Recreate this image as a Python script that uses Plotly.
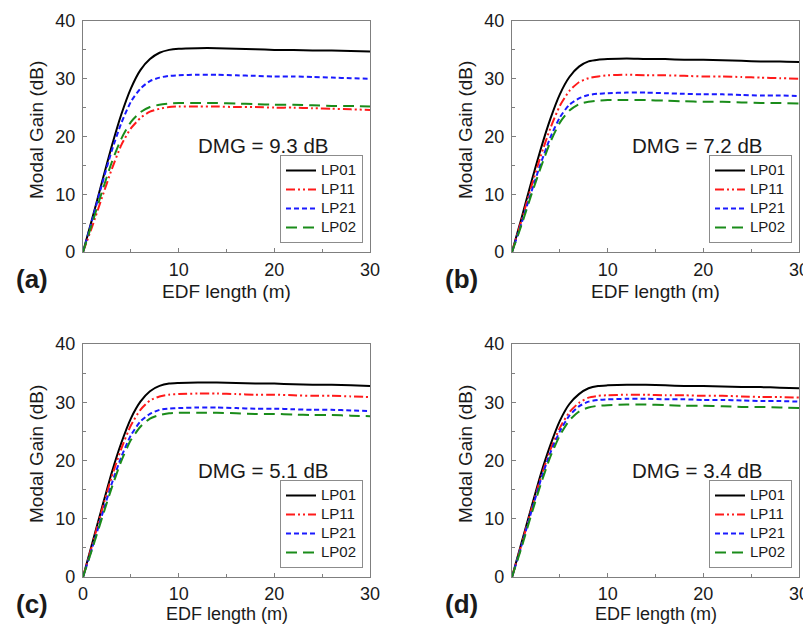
import plotly.graph_objects as go

# ---------------- data ----------------
edf_length = [0, 1, 2, 3, 4, 5, 6, 7, 8, 9, 10, 12, 14, 16, 18, 20, 22, 24, 26, 28, 30]
mode_names = ["LP01", "LP11", "LP21", "LP02"]

# panel (a)
a_lp01 = [0, 6.0, 12.2, 18.3, 23.8, 28.3, 31.5, 33.4, 34.5, 35.0, 35.2, 35.3, 35.3, 35.2, 35.1, 35.0, 35.0, 34.9, 34.9, 34.8, 34.7]
a_lp11 = [0, 4.6, 9.5, 14.3, 18.5, 21.4, 23.2, 24.3, 24.8, 25.1, 25.2, 25.2, 25.2, 25.1, 25.1, 25.0, 25.0, 24.9, 24.8, 24.7, 24.6]
a_lp21 = [0, 5.8, 11.8, 17.5, 22.3, 26.0, 28.3, 29.6, 30.2, 30.5, 30.6, 30.7, 30.7, 30.6, 30.5, 30.4, 30.4, 30.3, 30.2, 30.1, 30.0]
a_lp02 = [0, 5.2, 10.5, 15.5, 19.6, 22.5, 24.2, 25.1, 25.5, 25.7, 25.8, 25.8, 25.8, 25.7, 25.6, 25.5, 25.5, 25.4, 25.3, 25.3, 25.2]

# panel (b)
b_lp01 = [0, 5.9, 12.0, 17.8, 23.0, 27.3, 30.3, 32.1, 33.0, 33.3, 33.4, 33.5, 33.4, 33.4, 33.3, 33.3, 33.2, 33.1, 33.0, 33.0, 32.9]
b_lp11 = [0, 5.5, 11.2, 16.6, 21.4, 25.3, 27.9, 29.4, 30.1, 30.4, 30.6, 30.7, 30.6, 30.6, 30.5, 30.4, 30.4, 30.3, 30.2, 30.1, 30.0]
b_lp21 = [0, 5.0, 10.3, 15.3, 19.8, 23.3, 25.5, 26.6, 27.2, 27.4, 27.5, 27.6, 27.6, 27.5, 27.4, 27.3, 27.3, 27.2, 27.1, 27.1, 27.0]
b_lp02 = [0, 4.7, 9.8, 14.6, 19.0, 22.4, 24.5, 25.6, 26.0, 26.2, 26.3, 26.3, 26.3, 26.2, 26.1, 26.0, 26.0, 25.9, 25.8, 25.8, 25.7]

# panel (c)
c_lp01 = [0, 6.0, 12.0, 17.9, 23.0, 27.2, 30.1, 31.9, 32.8, 33.2, 33.3, 33.4, 33.4, 33.3, 33.2, 33.2, 33.1, 33.0, 33.0, 32.9, 32.8]
c_lp11 = [0, 5.7, 11.6, 17.2, 22.0, 26.0, 28.7, 30.3, 31.0, 31.3, 31.4, 31.5, 31.5, 31.4, 31.3, 31.3, 31.2, 31.1, 31.1, 31.0, 30.9]
c_lp21 = [0, 5.2, 10.7, 16.0, 20.6, 24.3, 26.7, 28.0, 28.7, 28.9, 29.0, 29.1, 29.1, 29.0, 28.9, 28.9, 28.8, 28.7, 28.7, 28.6, 28.5]
c_lp02 = [0, 5.0, 10.2, 15.3, 19.9, 23.5, 25.8, 27.2, 27.8, 28.1, 28.2, 28.2, 28.2, 28.1, 28.0, 28.0, 27.9, 27.8, 27.8, 27.7, 27.6]

# panel (d)
d_lp01 = [0, 5.9, 11.8, 17.6, 22.6, 26.8, 29.7, 31.4, 32.4, 32.8, 32.9, 33.0, 33.0, 32.9, 32.8, 32.8, 32.7, 32.6, 32.6, 32.5, 32.4]
d_lp11 = [0, 5.6, 11.4, 17.0, 21.8, 25.6, 28.3, 29.9, 30.8, 31.1, 31.2, 31.3, 31.3, 31.2, 31.2, 31.1, 31.1, 31.0, 30.9, 30.9, 30.8]
d_lp21 = [0, 5.4, 11.1, 16.6, 21.3, 25.0, 27.7, 29.3, 30.1, 30.4, 30.5, 30.6, 30.6, 30.5, 30.5, 30.4, 30.4, 30.3, 30.2, 30.2, 30.1]
d_lp02 = [0, 5.1, 10.6, 15.9, 20.6, 24.3, 26.9, 28.4, 29.1, 29.4, 29.5, 29.6, 29.6, 29.5, 29.4, 29.4, 29.3, 29.2, 29.2, 29.1, 29.0]

panel_labels = ["(a)", "(b)", "(c)", "(d)"]
dmg_labels = ["DMG = 9.3 dB", "DMG = 7.2 dB", "DMG = 5.1 dB", "DMG = 3.4 dB"]
y_ticks = [0, 10, 20, 30, 40]
x_ticks_abd = [10, 20, 30]
x_ticks_c = [0, 10, 20, 30]

panels = [
    [a_lp01, a_lp11, a_lp21, a_lp02],
    [b_lp01, b_lp11, b_lp21, b_lp02],
    [c_lp01, c_lp11, c_lp21, c_lp02],
    [d_lp01, d_lp11, d_lp21, d_lp02],
]

# ---------------- styling ----------------
W, H = 811, 625
OFF = 8  # default page margin of the html body
FONT = "Liberation Sans, Arial, sans-serif"
TXT = "#1a1a1a"
AX = "#7f7f7f"
styles = [
    dict(color="#000000", dash="solid"),
    dict(color="#ff1a1a", dash="9px,3px,2px,3px,2px,3px"),
    dict(color="#1a1aff", dash="5px,3px"),
    dict(color="#1a8c1a", dash="11px,6px"),
]
# plot areas in page pixels: (left, right, top, bottom)
boxes = [(83, 370, 21, 252), (512, 799, 21, 252), (83, 370, 344, 577), (512, 799, 344, 577)]
xtitle_gap = [39, 39, 37, 37]
xtitle_size = [19, 19, 18, 18]
xtick_standoff = [1, 1, 0, 0]


def px(xp):
    return (xp - OFF) / W


def py(yp):
    return 1 - (yp - OFF) / H


fig = go.Figure()
for i, series in enumerate(panels):
    xa = "x" if i == 0 else f"x{i+1}"
    ya = "y" if i == 0 else f"y{i+1}"
    lg = "legend" if i == 0 else f"legend{i+1}"
    for name, vals, st in zip(mode_names, series, styles):
        fig.add_trace(go.Scatter(
            x=edf_length, y=vals, mode="lines",
            name='<span style="font-size:15px">' + name + '</span>',
            line=dict(color=st["color"], dash=st["dash"], width=2, shape="spline", smoothing=0.6),
            xaxis=xa, yaxis=ya, legend=lg,
        ))

axis_common = dict(
    showline=True, linecolor=AX, linewidth=1.3, mirror=True,
    showgrid=False, zeroline=False, automargin=False,
    ticks="inside", ticklen=4, tickcolor=AX,
    tickfont=dict(family=FONT, size=18, color=TXT),
)

layout = dict(
    width=W, height=H, margin=dict(l=0, r=0, t=0, b=0, autoexpand=False),
    paper_bgcolor="white", plot_bgcolor="white", showlegend=True,
    font=dict(family=FONT),
)
annotations = []
for i, (l, r, t, b) in enumerate(boxes):
    sfx = "" if i == 0 else str(i + 1)
    layout["xaxis" + sfx] = dict(
        axis_common, domain=[px(l), px(r)], range=[0, 30], anchor="y" + sfx,
        tickvals=x_ticks_c if i == 2 else x_ticks_abd,
        minor=dict(ticks="inside", ticklen=3, tickcolor=AX, tickvals=[5, 15, 25], showgrid=False),
        ticklabelstandoff=xtick_standoff[i],
    )
    layout["yaxis" + sfx] = dict(
        axis_common, domain=[py(b), py(t)], range=[0, 40], anchor="x" + sfx,
        tickvals=y_ticks,
        minor=dict(ticks="inside", ticklen=3, tickcolor=AX, tickvals=[5, 15, 25, 35], showgrid=False),
        ticklabelstandoff=3,
    )
    layout["legend" + sfx] = dict(
        x=px(r - 7), y=py(b - 9), xanchor="right", yanchor="bottom",
        xref="paper", yref="paper",
        bordercolor="#8c8c8c", borderwidth=1, bgcolor="white",
        font=dict(family=FONT, size=12, color=TXT),
        tracegroupgap=0, itemwidth=30,
    )
    # axis titles
    annotations.append(dict(text="EDF length (m)", x=px((l + r) / 2), y=py(b + xtitle_gap[i]),
                            xref="paper", yref="paper", showarrow=False,
                            font=dict(family=FONT, size=xtitle_size[i], color=TXT),
                            xanchor="center", yanchor="middle"))
    annotations.append(dict(text="Modal Gain (dB)", x=px(l - 46.5), y=py((t + b) / 2 - 6),
                            xref="paper", yref="paper", showarrow=False, textangle=-90,
                            font=dict(family=FONT, size=19, color=TXT),
                            xanchor="center", yanchor="middle"))
    annotations.append(dict(text="<b>" + panel_labels[i] + "</b>", x=px(l - 51), y=py(b + 27),
                            xref="paper", yref="paper", showarrow=False,
                            font=dict(family=FONT, size=26, color=TXT),
                            xanchor="center", yanchor="middle"))
    annotations.append(dict(text=dmg_labels[i], x=px(l + (r - l) * (0.627 if i in (0, 2) else 0.645)), y=py(b - 107),
                            xref="paper", yref="paper", showarrow=False,
                            font=dict(family=FONT, size=20.5, color=TXT),
                            xanchor="center", yanchor="middle"))
layout["annotations"] = annotations
fig.update_layout(**layout)
fig.write_html("out.html")
